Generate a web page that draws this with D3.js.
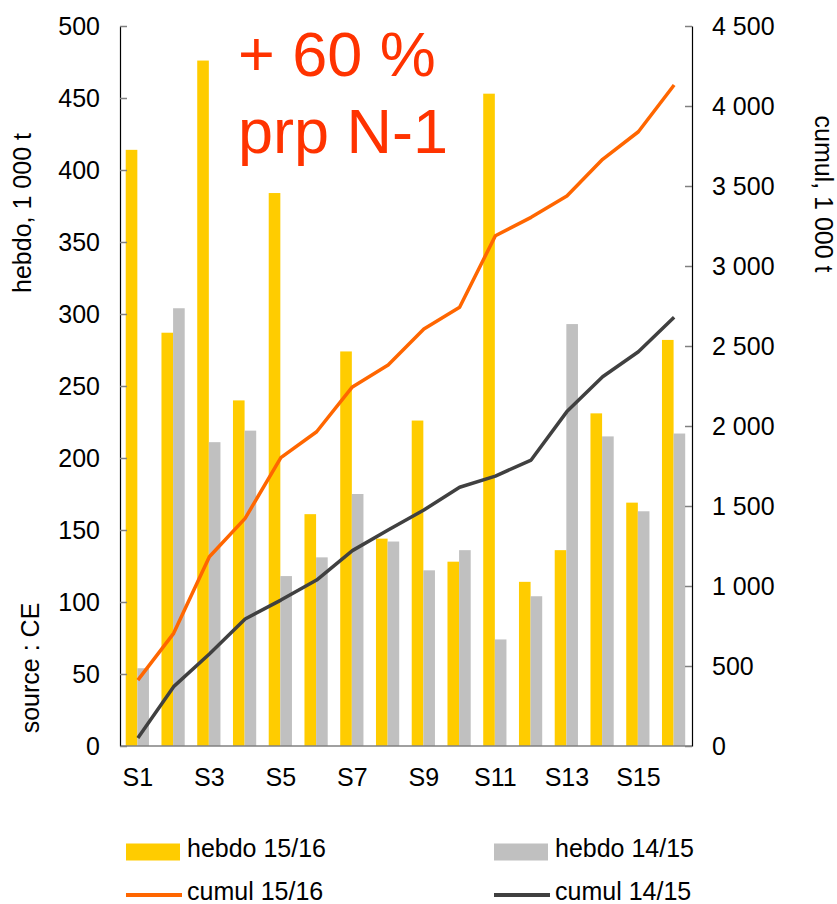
<!DOCTYPE html>
<html>
<head>
<meta charset="utf-8">
<script src="https://cdn.jsdelivr.net/npm/d3@7"></script>
<style>
  html, body { margin: 0; padding: 0; background: #fff; }
  svg { display: block; font-family: "Liberation Sans", Arial, sans-serif; }
</style>
</head>
<body>
<svg id="chart" width="837" height="904"></svg>
<script>
// ---- data ----
const categories = ["S1","S2","S3","S4","S5","S6","S7","S8","S9","S10","S11","S12","S13","S14","S15","S16"];
const xTickLabels = ["S1","S3","S5","S7","S9","S11","S13","S15"];
const hebdo1516 = [414, 287, 476, 240, 384, 161, 274, 144, 226, 128, 453, 114, 136, 231, 169, 282];
const hebdo1415 = [54, 304, 211, 219, 118, 131, 175, 142, 122, 136, 74, 104, 293, 215, 163, 217];
const cumul1516 = [412, 704, 1183, 1423, 1802, 1964, 2244, 2381, 2606, 2742, 3189, 3304, 3437, 3667, 3839, 4131];
const cumul1415 = [50, 371, 575, 794, 912, 1037, 1221, 1350, 1475, 1617, 1687, 1787, 2090, 2308, 2464, 2679];
const leftTicks = [0, 50, 100, 150, 200, 250, 300, 350, 400, 450, 500];
const rightTicks = [0, 500, 1000, 1500, 2000, 2500, 3000, 3500, 4000, 4500];
const seriesNames = ["hebdo 15/16", "hebdo 14/15", "cumul 15/16", "cumul 14/15"];
const colors = { h1516: "#FFCC00", h1415: "#C0C0C0", c1516: "#FF6600", c1415: "#404040" };

// ---- layout ----
const svg = d3.select("#chart");
const L = 120, R = 692, T = 26, B = 746;
const fs = 25;

const x = d3.scaleBand().domain(categories).range([L, R]).padding(0);
const bw = x.bandwidth();
const xSub = d3.scaleBand().domain(["h1516", "h1415"]).range([bw * 0.16, bw * 0.81]);
const yL = d3.scaleLinear().domain([0, 500]).range([B, T]);
const yR = d3.scaleLinear().domain([0, 4500]).range([B, T]);

const loc = d3.formatLocale({ decimal: ",", thousands: " ", grouping: [3], currency: ["", ""] });
const fmt = loc.format(",");

// bars
const barData = categories.map((c, i) => ({ c, h1516: hebdo1516[i], h1415: hebdo1415[i] }));
const gBars = svg.append("g");
["h1516", "h1415"].forEach(k => {
  gBars.selectAll("rect." + k).data(barData).enter().append("rect")
    .attr("class", k)
    .attr("x", d => x(d.c) + xSub(k))
    .attr("width", xSub.bandwidth())
    .attr("y", d => yL(d[k]))
    .attr("height", d => B - yL(d[k]))
    .attr("fill", colors[k]);
});

// baseline
svg.append("line").attr("x1", L).attr("x2", R).attr("y1", B).attr("y2", B)
  .attr("stroke", "#808080").attr("stroke-width", 1.5);

// lines
const line = d3.line().x(d => x(d.c) + bw / 2).y(d => yR(d.v));
[[cumul1516, colors.c1516], [cumul1415, colors.c1415]].forEach(([arr, col]) => {
  svg.append("path")
    .datum(categories.map((c, i) => ({ c, v: arr[i] })))
    .attr("d", line).attr("fill", "none").attr("stroke", col)
    .attr("stroke-width", 3.5).attr("stroke-linejoin", "round");
});

// axes
function styleAxis(g) {
  g.select(".domain").attr("stroke", "#000").attr("stroke-width", 1.2);
  g.selectAll(".tick line").attr("stroke", "#808080").attr("stroke-width", 1.5);
  g.selectAll(".tick text").attr("font-size", fs).attr("fill", "#000")
    .attr("font-family", '"Liberation Sans", Arial, sans-serif');
}
const axL = svg.append("g").attr("transform", `translate(${L},0)`)
  .call(d3.axisLeft(yL).tickValues(leftTicks).tickSizeInner(-7).tickSizeOuter(0).tickPadding(20));
styleAxis(axL);
const axR = svg.append("g").attr("transform", `translate(${R},0)`)
  .call(d3.axisRight(yR).tickValues(rightTicks).tickFormat(fmt).tickSizeInner(-7).tickSizeOuter(0).tickPadding(20));
styleAxis(axR);

const axB = svg.append("g").attr("transform", `translate(0,${B})`)
  .call(d3.axisBottom(x).tickValues(xTickLabels).tickSize(0).tickPadding(22));
axB.select(".domain").remove();
axB.selectAll(".tick text").attr("font-size", fs).attr("fill", "#000")
  .attr("font-family", '"Liberation Sans", Arial, sans-serif');

// axis titles
svg.append("text").attr("transform", "translate(31,213) rotate(-90)")
  .attr("text-anchor", "middle").attr("font-size", fs).text("hebdo, 1 000 t");
svg.append("text").attr("transform", "translate(815,194) rotate(90)")
  .attr("text-anchor", "middle").attr("font-size", fs).text("cumul, 1 000 t");
svg.append("text").attr("transform", "translate(39,668) rotate(-90)")
  .attr("text-anchor", "middle").attr("font-size", fs).text("source : CE");

// annotation
svg.append("text").attr("x", 238).attr("y", 76).attr("font-size", 63).attr("fill", "#FF3300").text("+ 60 %");
svg.append("text").attr("x", 238).attr("y", 153).attr("font-size", 63).attr("fill", "#FF3300").text("prp N-1");

// legend
const legend = [
  { name: seriesNames[0], type: "rect", col: colors.h1516, x: 126, y: 852 },
  { name: seriesNames[1], type: "rect", col: colors.h1415, x: 494, y: 852 },
  { name: seriesNames[2], type: "line", col: colors.c1516, x: 126, y: 895 },
  { name: seriesNames[3], type: "line", col: colors.c1415, x: 494, y: 895 }
];
const lg = svg.append("g").selectAll("g").data(legend).enter().append("g");
lg.filter(d => d.type === "rect").append("rect")
  .attr("x", d => d.x).attr("y", d => d.y - 8.5).attr("width", 54).attr("height", 17).attr("fill", d => d.col);
lg.filter(d => d.type === "line").append("line")
  .attr("x1", d => d.x).attr("x2", d => d.x + 56).attr("y1", d => d.y).attr("y2", d => d.y)
  .attr("stroke", d => d.col).attr("stroke-width", 4);
lg.append("text").attr("x", d => d.x + 61).attr("y", d => d.y + 4.5)
  .attr("font-size", fs).text(d => d.name);
</script>
</body>
</html>
